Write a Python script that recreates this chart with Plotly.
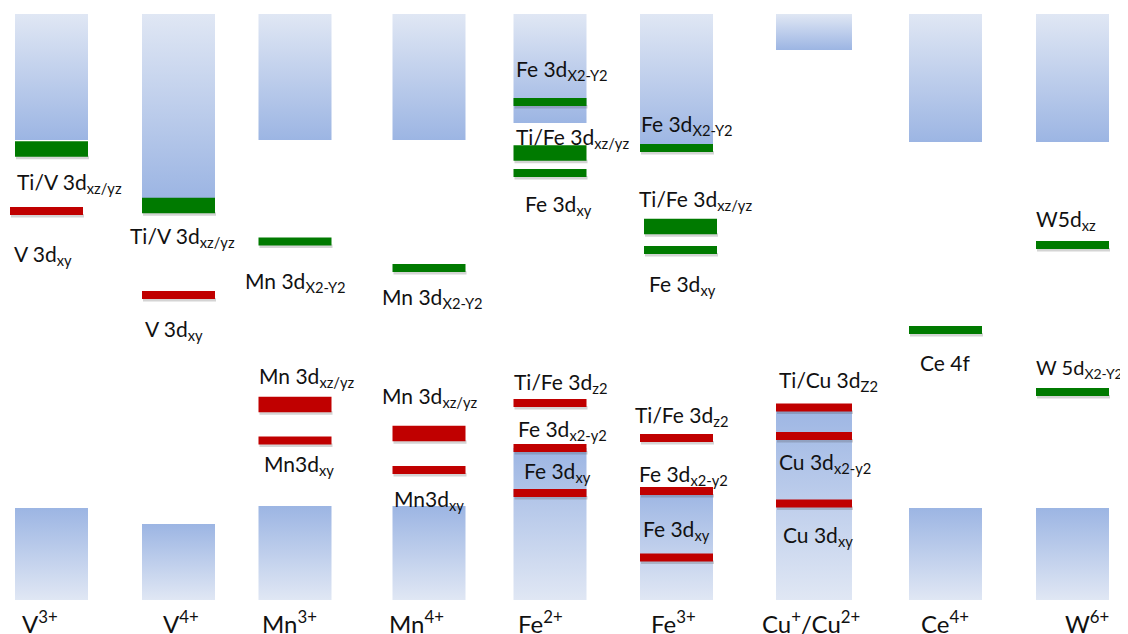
import plotly.graph_objects as go

# ---------------- data (energies in arbitrary units, 0 = bottom of valence band) -------------
ions = ["V<sup>3+</sup>", "V<sup>4+</sup>", "Mn<sup>3+</sup>", "Mn<sup>4+</sup>", "Fe<sup>2+</sup>",
        "Fe<sup>3+</sup>", "Cu<sup>+</sup>/Cu<sup>2+</sup>", "Ce<sup>4+</sup>", "W<sup>6+</sup>"]
cb_top = [11.72, 11.72, 11.72, 11.72, 11.72, 11.72, 11.72, 11.72, 11.72]
cb_bottom = [9.2, 8.04, 9.2, 9.2, 9.54, 9.04, 11.0, 9.16, 9.16]
vb_top = [1.84, 1.52, 1.88, 1.88, 3.04, 2.2, 3.9, 1.84, 1.84]
vb_bottom = [0, 0, 0, 0, 0, 0, 0, 0, 0]

level_ion = [0, 0, 1, 1, 2, 2, 2, 3, 3, 3,
             4, 4, 4, 4, 4, 4, 5, 5, 5, 5, 5, 5,
             6, 6, 6, 7, 8, 8]
level_energy = [9.02, 7.78, 7.89, 6.10, 7.17, 3.91, 3.19, 6.64, 3.33, 2.60,
                9.96, 8.94, 8.54, 3.94, 3.04, 2.14, 9.04, 7.47, 7.00, 3.24, 2.18, 0.85,
                3.85, 3.28, 1.93, 5.40, 7.10, 4.16]
level_kind = ["empty", "filled", "empty", "filled", "empty", "filled", "filled", "empty", "filled", "filled",
              "empty", "empty", "empty", "filled", "filled", "filled",
              "empty", "empty", "empty", "filled", "filled", "filled",
              "filled", "filled", "filled", "empty", "empty", "empty"]
level_size = ["thick", "thin", "thick", "thin", "thin", "thick", "thin", "thin", "thick", "thin",
              "thin", "thick", "thin", "thin", "thin", "thin",
              "thin", "thick", "thin", "thin", "thin", "thin",
              "thin", "thin", "thin", "thin", "thin", "thin"]

label_ion = [0, 0, 1, 1, 2, 2, 2, 3, 3, 3,
             4, 4, 4, 4, 4, 4, 5, 5, 5, 5, 5, 5,
             6, 6, 6, 7, 8, 8]
label_energy = [8.34, 6.90, 7.26, 5.40, 6.36, 4.46, 2.70, 6.04, 4.06, 2.00,
                10.60, 9.24, 7.90, 4.34, 3.40, 2.56, 9.50, 8.00, 6.30, 3.68, 2.50, 1.40,
                4.38, 2.74, 1.28, 4.76, 7.60, 4.64]
label_text = ["Ti/V 3d<sub>xz/yz</sub>", "V 3d<sub>xy</sub>",
              "Ti/V 3d<sub>xz/yz</sub>", "V 3d<sub>xy</sub>",
              "Mn 3d<sub>X2-Y2</sub>", "Mn 3d<sub>xz/yz</sub>", "Mn3d<sub>xy</sub>",
              "Mn 3d<sub>X2-Y2</sub>", "Mn 3d<sub>xz/yz</sub>", "Mn3d<sub>xy</sub>",
              "Fe 3d<sub>X2-Y2</sub>", "Ti/Fe 3d<sub>xz/yz</sub>", "Fe 3d<sub>xy</sub>",
              "Ti/Fe 3d<sub>z2</sub>", "Fe 3d<sub>x2-y2</sub>", "Fe 3d<sub>xy</sub>",
              "Fe 3d<sub>X2-Y2</sub>", "Ti/Fe 3d<sub>xz/yz</sub>", "Fe 3d<sub>xy</sub>",
              "Ti/Fe 3d<sub>z2</sub>", "Fe 3d<sub>x2-y2</sub>", "Fe 3d<sub>xy</sub>",
              "Ti/Cu 3d<sub>Z2</sub>", "Cu 3d<sub>x2-y2</sub>", "Cu 3d<sub>xy</sub>",
              "Ce 4f", "W5d<sub>xz</sub>", "W 5d<sub>X2-Y2</sub>"]

# ---------------- layout / style ----------------
# the page body has an 8px margin, so the figure covers window pixels 8..1128 x 8..634
OFF = 8
W, H = 1128 - OFF, 634 - OFF
E_MIN, E_MAX = -0.68, 11.84
col_center = [51.5, 178.5, 295, 429, 550, 676.5, 814, 945.5, 1072.5]
col_half = [36.5, 36.5, 36.5, 36.5, 36.5, 36.5, 38, 36.5, 36.5]
level_dx = {1: -5, 17: 4, 18: 4}          # small horizontal nudges of individual bars
label_x = [15, 12, 128, 143, 243, 257, 262, 380, 380, 392,
           514, 514, 523, 512, 516, 522, 639, 637, 647, 633, 637, 641,
           777, 777, 781, 918, 1034, 1034]
label_size = {27: 20}
ion_label_x = [40, 181, 289, 416, 540, 673, 811, 945, 1087]
thickness = {"thin": 0.16, "thick": 0.31}
kind_color = {"empty": "#007a00", "filled": "#c00000"}
SHADOW = "rgba(60,60,60,0.22)"
DARK, LIGHT = "#9cb5e3", "#e0e7f4"
FONT = "Lato"

fig = go.Figure()


def rect(x0, x1, y0, y1, **kw):
    fig.add_trace(go.Scatter(x=[x0, x1, x1, x0, x0], y=[y0, y0, y1, y1, y0], mode="lines",
                             fill="toself", line=dict(width=0), hoverinfo="skip",
                             showlegend=False, **kw))


for i in range(len(ions)):
    x0, x1 = col_center[i] - col_half[i], col_center[i] + col_half[i]
    rect(x0, x1, cb_bottom[i], cb_top[i],
         fillgradient=dict(type="vertical", start=cb_bottom[i], stop=cb_top[i],
                           colorscale=[[0, DARK], [1, LIGHT]]))
    rect(x0, x1, vb_bottom[i], vb_top[i],
         fillgradient=dict(type="vertical", start=vb_bottom[i], stop=vb_top[i],
                           colorscale=[[0, LIGHT], [1, DARK]]))

for n, (i, e, k, s) in enumerate(zip(level_ion, level_energy, level_kind, level_size)):
    dx = level_dx.get(n, 0)
    x0, x1 = col_center[i] - col_half[i] + dx, col_center[i] + col_half[i] + dx
    t = thickness[s] / 2
    rect(x0 + 1, x1 + 1, e - t - 0.05, e - t + 0.02, fillcolor=SHADOW)
    rect(x0, x1, e - t, e + t, fillcolor=kind_color[k])

annotations = []
for n, (i, e, txt, lx) in enumerate(zip(label_ion, label_energy, label_text, label_x)):
    annotations.append(dict(x=lx, y=e, text=txt, showarrow=False, xanchor="left", yanchor="middle",
                            font=dict(family=FONT, size=label_size.get(n, 21), color="#111111")))
for name, lx in zip(ions, ion_label_x):
    annotations.append(dict(x=lx, y=-0.08, text=name, showarrow=False, xanchor="center", yanchor="top",
                            font=dict(family=FONT, size=24, color="#111111")))

fig.update_layout(
    width=W, height=H, margin=dict(l=0, r=0, t=0, b=0),
    paper_bgcolor="white", plot_bgcolor="white",
    xaxis=dict(range=[OFF, 1128], visible=False, fixedrange=True),
    yaxis=dict(range=[E_MIN, E_MAX], visible=False, fixedrange=True),
    annotations=annotations, showlegend=False,
)
fig.write_html("out.html")
